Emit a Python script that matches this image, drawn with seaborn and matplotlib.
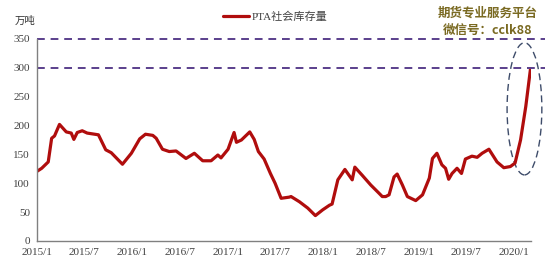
import matplotlib
matplotlib.use("Agg")
import matplotlib.pyplot as plt
import matplotlib.dates as mdates
from matplotlib.patches import Ellipse
import pandas as pd
import seaborn as sns

dates = [
    "2015-01-02", "2015-01-19", "2015-02-13", "2015-02-26", "2015-03-09", "2015-03-28",
    "2015-04-23", "2015-05-12", "2015-05-22", "2015-06-04", "2015-06-23", "2015-07-12",
    "2015-08-24", "2015-09-21", "2015-10-12", "2015-11-24", "2015-12-28", "2016-01-29",
    "2016-02-20", "2016-03-19", "2016-04-01", "2016-04-25", "2016-05-21", "2016-06-16",
    "2016-07-24", "2016-08-25", "2016-09-26", "2016-10-28", "2016-11-23", "2016-12-05",
    "2017-01-01", "2017-01-24", "2017-02-02", "2017-02-21", "2017-03-25", "2017-04-11",
    "2017-04-27", "2017-05-19", "2017-06-12", "2017-06-30", "2017-07-23", "2017-08-23",
    "2017-08-30", "2017-10-01", "2017-11-02", "2017-12-01", "2017-12-29", "2018-01-24",
    "2018-02-03", "2018-02-25", "2018-03-24", "2018-04-21", "2018-05-01", "2018-05-29",
    "2018-07-01", "2018-08-01", "2018-08-14", "2018-08-27", "2018-09-09", "2018-09-28",
    "2018-10-10", "2018-10-30", "2018-11-18", "2018-12-20", "2019-01-15", "2019-02-10",
    "2019-02-22", "2019-03-11", "2019-03-30", "2019-04-13", "2019-04-25", "2019-05-08",
    "2019-05-27", "2019-06-13", "2019-06-28", "2019-07-23", "2019-08-12", "2019-08-31",
    "2019-09-26", "2019-10-27", "2019-11-22", "2019-12-17", "2020-01-04", "2020-01-25",
    "2020-02-14", "2020-03-03",
]
inventory = [
    121, 126, 137, 178, 182, 202,
    189, 187, 176, 188, 191, 187,
    184, 158, 153, 133, 152, 177,
    185, 183, 178, 159, 155, 156,
    143, 152, 139, 139, 149, 144,
    159, 188, 171, 175, 189, 176,
    155, 142, 117, 100, 74, 76,
    77, 68, 57, 44, 54, 62,
    64, 106, 124, 106, 128, 114,
    97, 83, 77, 77, 80, 111,
    116, 97, 77, 70, 80, 109,
    143, 152, 132, 126, 107, 117,
    126, 117, 142, 147, 145, 152,
    159, 137, 127, 129, 135, 175,
    233, 298,
]
tick_dates = ["2015-01-01", "2015-07-01", "2016-01-01", "2016-07-01", "2017-01-01",
              "2017-07-01", "2018-01-01", "2018-07-01", "2019-01-01", "2019-07-01",
              "2020-01-01"]
tick_labels = ["2015/1", "2015/7", "2016/1", "2016/7", "2017/1", "2017/7",
               "2018/1", "2018/7", "2019/1", "2019/7", "2020/1"]
y_ticks = [0, 50, 100, 150, 200, 250, 300, 350]
ref_levels = [300, 350]
series_name = "PTA社会库存量"
unit_label = "万吨"
watermark = ["期货专业服务平台", "微信号：cclk88"]

sns.set_style("white")
plt.rcParams["font.family"] = ["Liberation Serif", "Noto Sans CJK SC", "DejaVu Sans"]

df = pd.DataFrame({"date": pd.to_datetime(dates), "value": inventory, "series": series_name})

fig = plt.figure(figsize=(5.5, 2.67), dpi=100)
ax = fig.add_axes([37 / 550, 26 / 267, (531 - 37) / 550, (241 - 39) / 267])

sns.lineplot(data=df, x="date", y="value", hue="series", palette=["#B00D0D"],
             linewidth=2.3, ax=ax, legend=True)

ax.set_xlim(pd.Timestamp("2015-01-01"), pd.Timestamp("2020-03-05"))
ax.set_ylim(0, 350)
ax.set_yticks(y_ticks)
ax.set_xticks(pd.to_datetime(tick_dates))
ax.set_xticklabels(tick_labels)
ax.set_xlabel("")
ax.set_ylabel("")

for s in ["top", "right"]:
    ax.spines[s].set_visible(False)
for s in ["left", "bottom"]:
    ax.spines[s].set_color("#808080")
    ax.spines[s].set_linewidth(1.0)
ax.tick_params(axis="both", direction="out", length=3, width=1, color="#808080",
               labelsize=8, labelcolor="#404040", pad=2)

xmax = (545 - 37) / (531 - 37)
for lv in ref_levels:
    ax.axhline(lv, xmin=0, xmax=xmax, color="#5A3F8C", linestyle=(0, (4, 3)),
               linewidth=1.4, clip_on=False)

cx = mdates.date2num(pd.Timestamp("2020-02-09"))
ell = Ellipse((cx, 229), width=133, height=229, fill=False, edgecolor="#3E4C6A",
              linestyle=(0, (5, 3)), linewidth=1.0, clip_on=False)
ax.add_patch(ell)

leg = ax.legend(loc="center", bbox_to_anchor=(0.482, 1.109), frameon=False,
                fontsize=8, handlelength=2.4, handletextpad=0.2)
for t in leg.get_texts():
    t.set_color("#404040")

fig.text(15 / 550, 1 - 21 / 267, unit_label, fontsize=7.5, color="#333333",
         va="center", ha="left")
fig.text(488 / 550, 1 - 13 / 267, watermark[0], fontsize=9, fontweight="bold",
         color="#7A6A22", family=["Noto Sans CJK SC"], ha="center", va="center")
fig.text(488 / 550, 1 - 30 / 267, watermark[1], fontsize=9, fontweight="bold",
         color="#7A6A22", family=["Noto Sans CJK SC"], ha="center", va="center")

fig.savefig("out.png", dpi=100)
